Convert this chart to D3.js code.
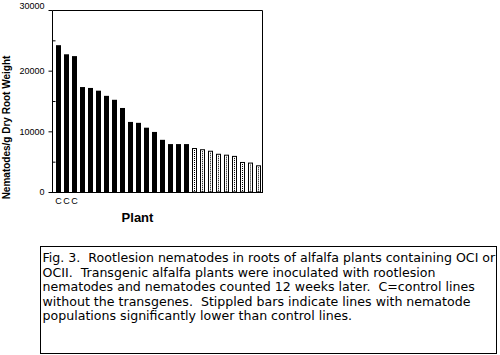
<!DOCTYPE html>
<html><head><meta charset="utf-8">
<script src="https://cdn.jsdelivr.net/npm/d3@7"></script>
<style>body{margin:0;background:#fff}svg{display:block}</style>
</head><body>
<svg id="c" width="500" height="355"></svg>
<script>
// Data
const plants = d3.range(1, 27).map(String);
const values = [24200, 22700, 22400, 17300, 17150, 16700, 15850, 15200, 13850, 11550, 11400, 10600, 9900, 8600, 7900, 7900, 7900,
                7250, 7050, 6800, 6300, 6150, 5950, 4950, 4850, 4400];
const stippled = [false,false,false,false,false,false,false,false,false,false,false,false,false,false,false,false,false,
                  true,true,true,true,true,true,true,true,true];
const controlLabels = ["C","C","C"];
const majorTicks = [0, 10000, 20000, 30000];
const minorTicks = [5000, 15000, 25000];
const yTitle = "Nematodes/g Dry Root Weight";
const xTitle = "Plant";
const captionLines = [
  "Fig. 3.  Rootlesion nematodes in roots of alfalfa plants containing OCI or",
  "OCII.  Transgenic alfalfa plants were inoculated with rootlesion",
  "nematodes and nematodes counted 12 weeks later.  C=control lines",
  "without the transgenes.  Stippled bars indicate lines with nematode",
  "populations significantly lower than control lines."
];

const svg = d3.select("#c");
const L = 52, R = 262, T = 10, B = 192;
const x = d3.scaleBand().domain(plants).range([56, 261]).paddingInner(0.375).paddingOuter(0);
const y = d3.scaleLinear().domain([0, 30000]).range([B, T]);

// bars
const g = svg.append("g");
plants.forEach((p, i) => {
  const x0 = x(p), w = x.bandwidth(), y0 = y(values[i]);
  if (!stippled[i]) {
    g.append("rect").attr("x", x0).attr("y", y0).attr("width", w).attr("height", B - y0).attr("fill", "#000");
  } else {
    g.append("rect").attr("x", x0 + 0.5).attr("y", y0 + 0.5).attr("width", w - 1).attr("height", B - y0 - 0.5)
      .attr("fill", "#fff").attr("stroke", "#000").attr("stroke-width", 1);
    g.append("line").attr("x1", x0 + w / 2).attr("x2", x0 + w / 2).attr("y1", y0 + 2).attr("y2", B)
      .attr("stroke", "#000").attr("stroke-width", 1).attr("stroke-dasharray", "1,1");
  }
});

// frame
svg.append("path").attr("d", `M${L+0.5},${B+0.5}V${T+0.5}H${R+0.5}V${B+0.5}`).attr("fill", "none").attr("stroke", "#000");
svg.append("line").attr("x1", L - 1).attr("x2", R + 1).attr("y1", B + 0.5).attr("y2", B + 0.5).attr("stroke", "#000");

// y axis
const yAxis = d3.axisLeft(y).tickValues(majorTicks).tickSize(4).tickPadding(4).tickFormat(d3.format("d"));
const ya = svg.append("g").attr("transform", `translate(${L + 0.5},0)`).call(yAxis);
ya.select(".domain").remove();
ya.selectAll("text").attr("font-family", "Liberation Sans, Arial, sans-serif").attr("font-size", 9).attr("fill", "#000")
  .attr("dy", d => d === 30000 ? "-0.15em" : "0.32em");
ya.selectAll("line").attr("stroke", "#000");
const yMinor = d3.axisRight(y).tickValues(minorTicks).tickSize(3).tickFormat("");
const ym = svg.append("g").attr("transform", `translate(${L + 0.5},0)`).call(yMinor);
ym.select(".domain").remove();
ym.selectAll("line").attr("stroke", "#000");

// C labels
controlLabels.forEach((c, i) => {
  svg.append("text").attr("x", x(plants[i]) + x.bandwidth() / 2).attr("y", 204)
    .attr("text-anchor", "middle").attr("font-family", "Liberation Sans, Arial, sans-serif").attr("font-size", 9).text(c);
});

// titles
svg.append("text").attr("transform", "translate(10,127.5) rotate(-90)").attr("text-anchor", "middle")
  .attr("font-family", "Liberation Sans, Arial, sans-serif").attr("font-weight", "bold").attr("font-size", 10).text(yTitle);
svg.append("text").attr("x", 137.5).attr("y", 222).attr("text-anchor", "middle")
  .attr("font-family", "Liberation Sans, Arial, sans-serif").attr("font-weight", "bold").attr("font-size", 13).text(xTitle);

// caption box
svg.append("rect").attr("x", 40.5).attr("y", 246.5).attr("width", 456).attr("height", 107).attr("fill", "none").attr("stroke", "#000");
captionLines.forEach((t, i) => {
  svg.append("text").attr("x", 42.5).attr("y", 262 + i * 14.6).style("white-space", "pre")
    .attr("font-family", "DejaVu Sans, sans-serif").attr("font-size", 12.6).text(t);
});
</script>
</body></html>
